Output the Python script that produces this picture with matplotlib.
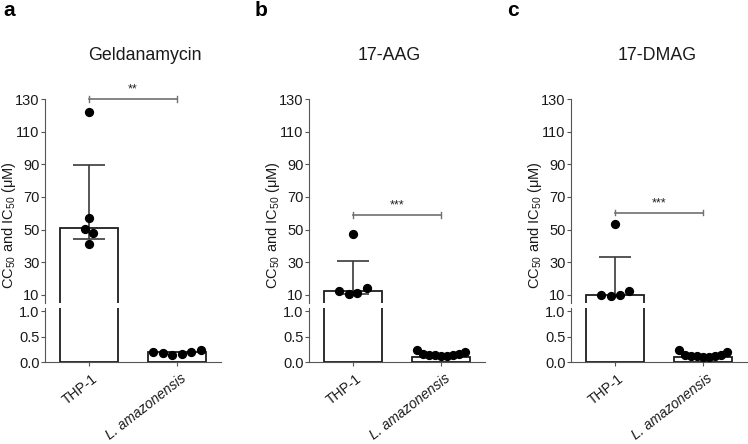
import numpy as np
import matplotlib
matplotlib.use("Agg")
import matplotlib.pyplot as plt
from matplotlib.transforms import blended_transform_factory, offset_copy

plt.rcParams['font.family'] = ['Liberation Sans', 'DejaVu Sans']
plt.rcParams['mathtext.fontset'] = 'custom'
plt.rcParams['mathtext.rm'] = 'Liberation Sans'
plt.rcParams['mathtext.it'] = 'Liberation Sans:italic'
plt.rcParams['mathtext.bf'] = 'Liberation Sans:bold'

# ---- data ----
panels = ['a', 'b', 'c']
titles = ['Geldanamycin', '17-AAG', '17-DMAG']
categories = ['THP-1', 'L. amazonensis']
category_styles = ['normal', 'italic']

thp_bar = [51.0, 12.2, 10.3]
thp_err_low = [44.5, 10.5, 10.3]
thp_err_high = [89.6, 31.0, 33.0]
thp_points_a = [122.0, 57.0, 50.4, 47.8, 41.0]
thp_points_b = [47.5, 12.5, 10.5, 11.5, 14.5]
thp_points_c = [53.7, 10.2, 9.4, 10.2, 12.6]

lam_bar = [0.20, 0.105, 0.09]
lam_points_a = [0.20, 0.18, 0.14, 0.16, 0.19, 0.235]
lam_points_b = [0.235, 0.15, 0.14, 0.13, 0.12, 0.12, 0.13, 0.15, 0.20]
lam_points_c = [0.235, 0.14, 0.12, 0.11, 0.10, 0.10, 0.11, 0.13, 0.19]

sig_y = [130, 59, 60.5]
sig_text = ['**', '***', '***']

upper_ticks = [10, 30, 50, 70, 90, 110, 130]
lower_ticks = [0.0, 0.5, 1.0]

thp_points = [thp_points_a, thp_points_b, thp_points_c]
lam_points = [lam_points_a, lam_points_b, lam_points_c]
thp_offsets = [[0, 0, -0.05, 0.05, 0], [0, -0.16, -0.05, 0.05, 0.16], [0, -0.16, -0.05, 0.06, 0.16]]

# ---- layout ----
W, H = 748, 444
fig = plt.figure(figsize=(W / 100, H / 100), dpi=100)

lefts = [45, 309, 571]
ax_w = 176
up_top, up_bot = 99, 303
lo_top, lo_bot = 308, 362
title_x = [145, 389, 657]
panel_x = [3, 255, 507]

edge = '#1e1e1e'
errc = '#3a3a3a'
spinec = '#555555'
sigc = '#707070'
textc = '#1a1a1a'

for i in range(3):
    l = lefts[i] / W
    w = ax_w / W
    axu = fig.add_axes([l, 1 - up_bot / H, w, (up_bot - up_top) / H])
    axl = fig.add_axes([l, 1 - lo_bot / H, w, (lo_bot - lo_top) / H])
    x = np.arange(len(categories))
    vals = [thp_bar[i], lam_bar[i]]
    for ax in (axu, axl):
        ax.bar(x, vals, width=0.66, color='white', edgecolor=edge, linewidth=1.3, zorder=2)
        ax.set_xlim(-0.5, 1.5)
        for s in ('top', 'right'):
            ax.spines[s].set_visible(False)
        ax.spines['left'].set_color(spinec)
        ax.spines['bottom'].set_color(spinec)
        ax.tick_params(axis='y', length=3, width=0.8, color=spinec, labelsize=10.5,
                       labelcolor=textc, pad=1)
        ax.patch.set_alpha(0)
        ax.scatter(x[0] + np.array(thp_offsets[i]), thp_points[i], s=32, color='black', zorder=4)
        n = len(lam_points[i])
        ax.scatter(x[1] + np.linspace(-0.27, 0.27, n), lam_points[i], s=32, color='black', zorder=4)
        ax.errorbar([x[0]], [thp_bar[i]],
                    yerr=[[thp_bar[i] - thp_err_low[i]], [thp_err_high[i] - thp_bar[i]]],
                    fmt='none', ecolor=errc, elinewidth=1.2, capsize=11.5, capthick=1.2, zorder=3)
    axu.set_ylim(5.1, 130)
    axu.set_yticks(upper_ticks)
    axu.spines['bottom'].set_visible(False)
    axu.tick_params(axis='x', bottom=False, labelbottom=False)
    axl.set_ylim(0, 1.06)
    axl.set_yticks(lower_ticks)
    axl.set_yticklabels(['%.1f' % t for t in lower_ticks])
    axl.set_xticks(x)
    axl.tick_params(axis='x', length=3, width=0.8, color=spinec, labelbottom=False)
    # rotated category labels
    base = blended_transform_factory(axl.transData, axl.transAxes)
    tr = offset_copy(base, fig=fig, x=7, y=-15, units='dots')
    for xi, lab, st in zip(x, categories, category_styles):
        axl.text(xi, 0, lab, transform=tr, rotation=38, rotation_mode='anchor',
                 ha='right', va='center', fontsize=10, fontstyle=st, color=textc)

    yv = sig_y[i]
    axu.plot([x[0], x[1]], [yv, yv], color=sigc, lw=1.2, clip_on=False, zorder=5)
    for xx in (x[0], x[1]):
        axu.plot([xx, xx], [yv - 1.8, yv + 1.8], color=sigc, lw=1.0, clip_on=False, zorder=5)
    axu.text((x[0] + x[1]) / 2, yv + 2.0, sig_text[i], ha='center', va='bottom', fontsize=9, color='#222222')

    fig.text(title_x[i] / W, 1 - 55 / H, titles[i], ha='center', va='center', fontsize=12.8, color=textc)
    fig.text((lefts[i] - 36) / W, 1 - 225 / H, 'CC$_{50}$ and IC$_{50}$ (μM)',
             rotation=90, ha='center', va='center', fontsize=10.5, color=textc)
    fig.text(panel_x[i] / W, 1 - 10 / H, panels[i], ha='left', va='center',
             fontsize=15, fontweight='bold')

fig.savefig('out.png', dpi=100)
